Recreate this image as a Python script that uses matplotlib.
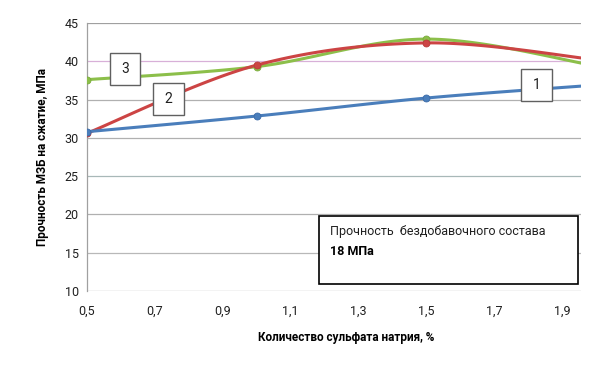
import numpy as np
import matplotlib
matplotlib.use("Agg")
import matplotlib.pyplot as plt
from matplotlib.patches import Rectangle

plt.rcParams['font.family'] = ['Roboto', 'DejaVu Sans']

x = [0.5, 1.0, 1.5, 2.0]
s1 = [30.8, 32.85, 35.2, 36.9]
s2 = [30.6, 39.5, 42.4, 40.2]
s3 = [37.6, 39.3, 42.9, 39.4]
xticks = [0.5, 0.7, 0.9, 1.1, 1.3, 1.5, 1.7, 1.9]
xticklabels = ['0,5', '0,7', '0,9', '1,1', '1,3', '1,5', '1,7', '1,9']
yticks = [10, 15, 20, 25, 30, 35, 40, 45]


def smooth(xs, ys, n=40):
    xs = np.asarray(xs, float)
    ys = np.asarray(ys, float)
    P = np.column_stack([xs, ys])
    out = []
    for i in range(len(P) - 1):
        p0 = P[i - 1] if i > 0 else P[i]
        p1 = P[i]
        p2 = P[i + 1]
        p3 = P[i + 2] if i + 2 < len(P) else P[i + 1]
        c1 = p1 + (p2 - p0) / 6.0
        c2 = p2 - (p3 - p1) / 6.0
        t = np.linspace(0, 1, n)[:, None]
        seg = ((1 - t) ** 3) * p1 + 3 * ((1 - t) ** 2) * t * c1 + 3 * (1 - t) * t ** 2 * c2 + t ** 3 * p2
        out.append(seg if i == 0 else seg[1:])
    B = np.vstack(out)
    return B[:, 0], B[:, 1]


fig = plt.figure(figsize=(6.14, 3.83), dpi=100)
ax = fig.add_axes([87 / 614, (383 - 291) / 383, (581 - 87) / 614, 268 / 383])
ax.set_xlim(0.5, 1.956)
ax.set_ylim(10, 45)

grid_colors = {10: '#a0a0a0', 15: '#b8b8b8', 20: '#b0b0b0', 25: '#a8b8b8', 30: '#b0b0b0',
               35: '#b0b0b0', 40: '#d8b0d8', 45: '#a0a0a0'}
for yv in yticks:
    ax.axhline(yv, color=grid_colors[yv], lw=0.9, zorder=1)

for sp in ['top', 'right', 'bottom']:
    ax.spines[sp].set_visible(False)
ax.spines['left'].set_color('#a0a0a0')
ax.spines['left'].set_linewidth(0.9)

colors = ['#4a7ebb', '#cc4444', '#8cbf4a']
edge = ['#3a6aa8', '#b83a3a', '#7aab3c']
for s, c, e in zip([s3, s2, s1], [colors[2], colors[1], colors[0]], [edge[2], edge[1], edge[0]]):
    sx, sy = smooth(x, s)
    ax.plot(sx, sy, color=c, lw=2.2, zorder=3, solid_capstyle='butt')
    ax.plot(x, s, 'o', color=c, ms=5, mec=e, mew=0.6, zorder=4)

ax.set_xticks(xticks)
ax.set_xticklabels(xticklabels)
ax.set_yticks(yticks)
ax.tick_params(axis='both', length=0, labelsize=9, colors='#202020', pad=10)
ax.tick_params(axis='y', pad=6)

fig.text(346 / 614, 1 - 337 / 383, 'Количество сульфата натрия, %', ha='center', va='center',
         fontsize=8.5, fontweight='bold')
fig.text(43 / 614, 1 - 157 / 383, 'Прочность МЗБ на сжатие, МПа', ha='center', va='center',
         rotation=90, fontsize=8.5, fontweight='bold')


def label_box(x0, y0, x1, y1, txt, lw=1.0):
    r = Rectangle((x0 / 614, 1 - y1 / 383), (x1 - x0) / 614, (y1 - y0) / 383,
                  transform=fig.transFigure, facecolor='white', edgecolor='#606060', lw=lw, zorder=5)
    fig.add_artist(r)
    fig.text((x0 + x1) / 2 / 614, 1 - (y0 + y1) / 2 / 383, txt, ha='center', va='center',
             fontsize=10, zorder=6, color='#202020')


label_box(110, 53, 140, 85, '3')
label_box(153, 83, 184, 115, '2')
label_box(521, 69, 552, 101, '1')

r = Rectangle((319 / 614, 1 - 284 / 383), (578 - 319) / 614, (284 - 216) / 383,
              transform=fig.transFigure, facecolor='white', edgecolor='black', lw=1.2, zorder=5)
fig.add_artist(r)
fig.text(330 / 614, 1 - 231 / 383, 'Прочность  бездобавочного состава', ha='left', va='center',
         fontsize=9, zorder=6, color='#202020')
fig.text(330 / 614, 1 - 251 / 383, '18 МПа', ha='left', va='center',
         fontsize=9, fontweight='bold', zorder=6, color='black')

fig.savefig('out.png', dpi=100, facecolor='white')
